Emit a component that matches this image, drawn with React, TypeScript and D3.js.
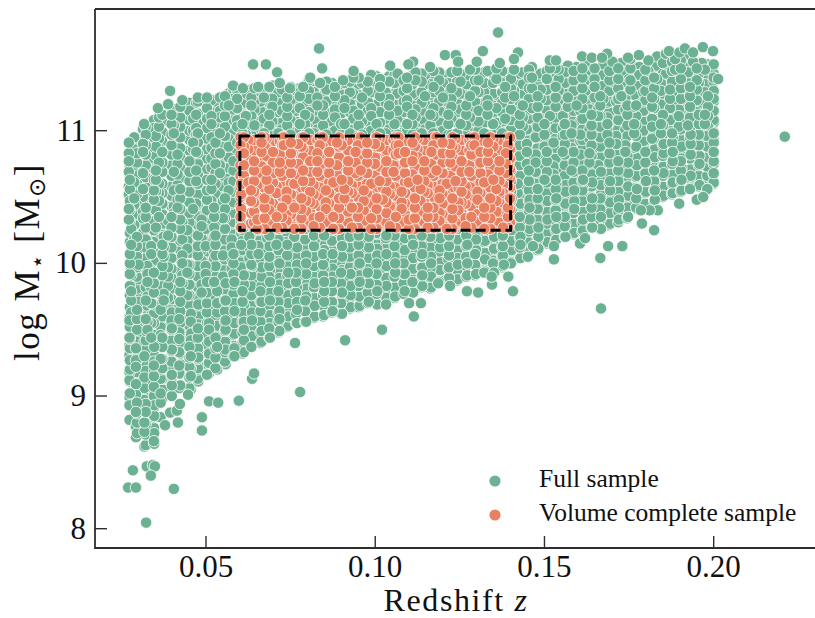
import React from "react";
import * as d3 from "d3";

// values: each row is [redshift, log mass, log mass, ...]
const fullColumns: number[][] = [
  [0.0274, 8.82,8.93,8.99,9.12,9.18,9.31,9.38,9.44,9.57],[0.0279, 9.63,9.72,9.79,9.91,9.96,10.09,10.14,10.26],[0.0272, 10.33,10.41,10.52,10.58,10.69,10.77,10.83,10.91],
  [0.0293, 8.69,8.77,8.88,8.96,9.01,9.09,9.22,9.27,9.36],[0.0301, 9.47,9.53,9.66,9.71,9.8,9.88,9.99,10.03,10.11],[0.0288, 10.18,10.29,10.37,10.44,10.49,10.61,10.66,10.74,10.86,10.95],
  [0.0318, 8.62,8.73,8.8,8.91,8.97,9.06,9.14,9.25,9.3,9.41],[0.0327, 9.5,9.56,9.68,9.75,9.86,9.92,9.98,10.1,10.16],[0.0314, 10.23,10.34,10.39,10.5,10.56,10.68,10.72,10.84,10.9,11.01],
  [0.0347, 8.64,8.72,8.85,8.93,9.03,9.1,9.19,9.26,9.37],[0.0338, 9.44,9.55,9.61,9.7,9.82,9.87,9.95,10.07,10.13],[0.0352, 10.22,10.27,10.4,10.46,10.54,10.63,10.7,10.81,10.88,10.96,11.07],
  [0.0366, 8.84,8.95,9.02,9.13,9.2,9.28,9.39,9.46,9.52,9.65],[0.0375, 9.72,9.77,9.89,9.94,10.05,10.12,10.2,10.3],[0.0361, 10.35,10.47,10.53,10.6,10.71,10.76,10.87,10.94,11.03,11.1],
  [0.0399, 9.0,9.08,9.16,9.24,9.35,9.4,9.51,9.59,9.63],[0.0388, 9.74,9.83,9.9,9.97,10.08,10.15,10.21,10.32],[0.0405, 10.38,10.43,10.55,10.64,10.69,10.8,10.85,10.98,11.04,11.15],
  [0.0421, 9.06,9.17,9.23,9.33,9.43,9.48,9.58,9.67],[0.043, 9.73,9.85,9.91,10.0,10.06,10.18,10.24,10.31],[0.0416, 10.42,10.48,10.59,10.67,10.75,10.82,10.93,10.99,11.08,11.16],
  [0.0455, 9.05,9.15,9.21,9.3,9.42,9.47,9.56,9.62],[0.0445, 9.76,9.81,9.93,9.99,10.11,10.17,10.25,10.36],[0.0462, 10.41,10.51,10.57,10.66,10.73,10.86,10.91,11.0,11.09,11.2],
  [0.0477, 9.11,9.2,9.29,9.34,9.45,9.54,9.6,9.69],[0.0487, 9.78,9.84,9.95,10.02,10.1,10.19,10.28,10.33],[0.0471, 10.45,10.5,10.62,10.7,10.78,10.84,10.97,11.02,11.12,11.21],
  [0.0509, 9.17,9.25,9.32,9.41,9.5,9.55,9.68,9.74],[0.0499, 9.82,9.92,9.98,10.08,10.13,10.26,10.3,10.39],[0.0516, 10.47,10.56,10.63,10.72,10.79,10.87,10.95,11.05,11.11,11.23],
  [0.0533, 9.2,9.31,9.37,9.46,9.53,9.63,9.7,9.79],[0.0524, 9.86,9.94,10.04,10.09,10.2,10.27,10.35,10.42],[0.0541, 10.5,10.58,10.68,10.74,10.83,10.92,10.98,11.1,11.15,11.25],
  [0.0558, 9.24,9.35,9.4,9.5,9.57,9.66,9.72,9.85],[0.055, 9.9,10.01,10.06,10.15,10.23,10.34,10.4,10.47],[0.0567, 10.55,10.61,10.72,10.8,10.88,10.94,11.06,11.13,11.19,11.28],
  [0.0584, 9.3,9.36,9.47,9.55,9.64,9.7,9.81,9.86],[0.0576, 9.96,10.03,10.12,10.18,10.3,10.37,10.45,10.52],[0.0592, 10.6,10.69,10.76,10.85,10.91,11.03,11.08,11.17,11.24,11.3],
  [0.0612, 9.33,9.42,9.5,9.56,9.68,9.73,9.84,9.91],[0.0604, 9.97,10.09,10.14,10.23,10.31],[0.0618, 10.97,11.06,11.11,11.21,11.28],
  [0.0636, 9.38,9.45,9.57,9.63,9.74,9.8,9.87,9.98],[0.0628, 10.04,10.12,10.2,10.29],[0.0643, 11.0,11.04,11.16,11.22,11.32],
  [0.0664, 9.41,9.49,9.59,9.66,9.71,9.83,9.9,9.97],[0.0655, 10.07,10.13,10.25,10.31],[0.0671, 10.98,11.09,11.14,11.25,11.3],
  [0.0689, 9.44,9.55,9.61,9.72,9.78,9.86,9.95,10.02],[0.0681, 10.1,10.19,10.26],[0.0696, 10.99,11.07,11.18,11.24,11.34],
  [0.0717, 9.49,9.58,9.64,9.75,9.84,9.89,10.0,10.08],[0.0708, 10.14,10.22,10.32],[0.0724, 11.01,11.06,11.15,11.27,11.31],
  [0.0743, 9.53,9.6,9.7,9.76,9.85,9.93,10.04,10.09],[0.0735, 10.16,10.27],[0.075, 10.97,11.08,11.16,11.23,11.33],
  [0.0769, 9.55,9.65,9.71,9.82,9.88,9.99,10.05,10.12],[0.0761, 10.2,10.29],[0.0777, 11.0,11.05,11.17,11.26,11.32],
  [0.0796, 9.56,9.67,9.75,9.81,9.92,10.0,10.06,10.15],[0.0788, 10.23,10.31],[0.0804, 10.98,11.1,11.14,11.24,11.3,11.38],
  [0.0821, 9.6,9.68,9.74,9.85,9.94,10.01,10.11,10.17],[0.0813, 10.26],[0.0829, 11.01,11.07,11.19,11.25,11.35],
  [0.0849, 9.61,9.71,9.79,9.86,9.97,10.03,10.1,10.21],[0.0841, 10.28],[0.0856, 10.97,11.06,11.13,11.22,11.31,11.37],
  [0.0874, 9.64,9.7,9.81,9.9,9.96,10.07,10.16,10.22],[0.0866, 10.3],[0.0881, 11.0,11.1,11.16,11.26,11.33],
  [0.0902, 9.62,9.73,9.78,9.88,9.95,10.05,10.13,10.19],[0.0893, 10.27],[0.0909, 10.99,11.05,11.17,11.23,11.36],
  [0.0927, 9.67,9.76,9.83,9.92,10.02,10.08,10.18,10.24],[0.0919, 10.31],[0.0935, 11.01,11.09,11.15,11.28,11.34,11.4],
  [0.0954, 9.68,9.75,9.86,9.91,10.0,10.1,10.15,10.26],[0.0946, 10.33],[0.0961, 10.97,11.07,11.2,11.25,11.36],
  [0.0981, 9.71,9.8,9.85,9.96,10.04,10.12,10.2,10.28],[0.0972, 10.32],[0.0988, 11.0,11.11,11.17,11.29,11.35,11.42],
  [0.1006, 9.69,9.79,9.87,9.94,10.06,10.11,10.22,10.29],[0.0998, 10.34],[0.1014, 10.98,11.06,11.14,11.26,11.33,11.39],
  [0.1033, 9.74,9.83,9.89,9.98,10.07,10.16,10.21,10.3],[0.1026, 10.27],[0.1041, 11.01,11.12,11.19,11.24,11.37,11.41],
  [0.1059, 9.75,9.81,9.93,10.0,10.08,10.18,10.24],[0.1051, 10.3],[0.1066, 10.97,11.08,11.15,11.28,11.34,11.43],
  [0.1087, 9.79,9.87,9.92,10.03,10.1,10.19,10.27],[0.1078, 10.33],[0.1094, 11.0,11.05,11.18,11.23,11.32,11.4],
  [0.1112, 9.78,9.88,9.96,10.04,10.14,10.2,10.28],[0.1104, 10.31],[0.1119, 10.99,11.1,11.16,11.27,11.38,11.44],
  [0.1139, 9.83,9.91,9.97,10.07,10.15,10.23,10.32],[0.1131, 10.26],[0.1147, 11.01,11.07,11.2,11.26,11.35,11.42],
  [0.1165, 9.82,9.9,10.0,10.05,10.17,10.25,10.29],[0.1157, 10.34],[0.1172, 10.98,11.11,11.17,11.29,11.33,11.45],
  [0.1192, 9.87,9.95,10.01,10.12,10.19,10.28],[0.1184, 10.33],[0.12, 11.0,11.06,11.14,11.25,11.36,11.41],
  [0.1218, 9.89,9.97,10.06,10.13,10.21,10.3],[0.121, 10.26],[0.1225, 10.97,11.09,11.18,11.24,11.32,11.44],
  [0.1244, 9.88,9.99,10.04,10.16,10.22,10.31],[0.1237, 10.27],[0.1252, 11.01,11.05,11.16,11.28,11.37,11.43],
  [0.1272, 9.91,10.0,10.09,10.14,10.25,10.32],[0.1263, 10.28],[0.128, 10.99,11.1,11.21,11.26,11.34,11.46],
  [0.1298, 9.92,9.98,10.1,10.18,10.24,10.33],[0.129, 10.29],[0.1305, 11.0,11.07,11.15,11.29,11.38,11.42],
  [0.1324, 9.94,10.03,10.08,10.17,10.27,10.3],[0.1316, 10.34],[0.1332, 10.97,11.12,11.19,11.23,11.35,11.45],
  [0.1351, 9.93,10.02,10.11,10.2,10.26,10.34],[0.1343, 10.29],[0.1358, 11.01,11.06,11.17,11.27,11.39,11.47],
  [0.1377, 9.98,10.06,10.13,10.21,10.29],[0.1369, 10.33],[0.1384, 10.99,11.09,11.2,11.25,11.33,11.44],
  [0.1403, 10.01,10.1,10.17,10.25,10.32,10.4,10.49],[0.1395, 10.56,10.66,10.71,10.83,10.89,11.0],[0.141, 11.07,11.15,11.26,11.3,11.41,11.46],
  [0.1429, 10.04,10.14,10.2,10.31,10.36,10.45],[0.1421, 10.53,10.6,10.72,10.79,10.87,10.94],[0.1436, 11.03,11.1,11.19,11.28,11.35,11.44],
  [0.1456, 10.09,10.15,10.26,10.33,10.42,10.48],[0.1448, 10.58,10.64,10.75,10.84,10.9,11.01],[0.1463, 11.06,11.17,11.22,11.32,11.4,11.48],
  [0.1482, 10.11,10.2,10.27,10.37,10.43,10.52],[0.1474, 10.6,10.69,10.76,10.82,10.95,10.99],[0.1489, 11.09,11.14,11.24,11.31,11.43],
  [0.1509, 10.16,10.22,10.33,10.39,10.47,10.57],[0.15, 10.63,10.74,10.8,10.88,10.97,11.05],[0.1516, 11.11,11.21,11.27,11.36,11.42,11.47],
  [0.1535, 10.18,10.26,10.35,10.44,10.49,10.6],[0.1527, 10.67,10.73,10.85,10.91,11.0,11.08],[0.1542, 11.16,11.23,11.3,11.39,11.46],
  [0.1562, 10.2,10.3,10.36,10.45,10.54,10.59],[0.1554, 10.71,10.78,10.84,10.96,11.02,11.11],[0.1569, 11.18,11.25,11.34,11.41,11.49],
  [0.1588, 10.23,10.29,10.41,10.47,10.55,10.64],[0.158, 10.7,10.81,10.87,10.98,11.04,11.13],[0.1595, 11.19,11.29,11.36,11.44,11.48],
  [0.1614, 10.25,10.33,10.39,10.5,10.58,10.63],[0.1606, 10.75,10.82,10.92,10.97,11.07,11.15],[0.1621, 11.21,11.3,11.38,11.43,11.51],
  [0.1641, 10.27,10.36,10.44,10.49,10.61,10.67],[0.1633, 10.76,10.83,10.94,11.01,11.08,11.16],[0.1648, 11.25,11.33,11.39,11.47],
  [0.1667, 10.26,10.35,10.43,10.52,10.59,10.69],[0.1659, 10.74,10.86,10.93,11.0,11.11,11.17],[0.1674, 11.24,11.34,11.42,11.5],
  [0.1694, 10.3,10.38,10.46,10.55,10.62,10.71],[0.1686, 10.79,10.85,10.97,11.05,11.1,11.21],[0.1701, 11.28,11.37,11.41,11.52],
  [0.172, 10.33,10.42,10.48,10.57,10.67,10.72],[0.1712, 10.82,10.9,10.96,11.06,11.13,11.22],[0.1727, 11.26,11.36,11.45,11.51],
  [0.1747, 10.35,10.44,10.51,10.58,10.68,10.76],[0.1739, 10.84,10.89,11.01,11.07,11.16,11.24],[0.1754, 11.31,11.38,11.47,11.54],
  [0.1773, 10.41,10.5,10.56,10.66,10.74,10.79],[0.1765, 10.87,10.98,11.05,11.1,11.18,11.27],[0.178, 11.34,11.42,11.48],
  [0.18, 10.44,10.54,10.62,10.67,10.78,10.85],[0.1792, 10.92,11.0,11.06,11.15,11.22,11.29],[0.1807, 11.37,11.45,11.53],
  [0.1826, 10.48,10.55,10.61,10.72,10.8,10.86],[0.1818, 10.94,11.03,11.09,11.18,11.25,11.34],[0.1833, 11.39,11.49,11.56],
  [0.1852, 10.51,10.57,10.68,10.73,10.83,10.9],[0.1844, 10.98,11.05,11.13,11.2,11.3,11.36],[0.1859, 11.43,11.5,11.58],
  [0.1879, 10.53,10.61,10.67,10.77,10.84,10.95],[0.1871, 11.0,11.08,11.17,11.24,11.31,11.41],[0.1886, 11.46,11.54],
  [0.1905, 10.55,10.63,10.72,10.79,10.88,10.93],[0.1897, 11.03,11.11,11.16,11.28,11.35,11.42],[0.1912, 11.49,11.56],
  [0.1932, 10.57,10.66,10.71,10.82,10.9,10.97],[0.1924, 11.04,11.13,11.2,11.27,11.36,11.44],[0.1939, 11.52],
  [0.1958, 10.59,10.65,10.75,10.81,10.92,10.99],[0.195, 11.07,11.14,11.23,11.31,11.38,11.47],[0.1965, 11.51],
  [0.1981, 10.56,10.66,10.73,10.8,10.88,10.96],[0.1974, 11.05,11.12,11.22,11.29,11.35,11.46],
  [0.2, 10.61,10.68,10.77,10.84,10.93,10.99,11.08,11.15,11.24,11.3,11.4,11.5],
];

// the dense body of the cloud, a second pass over the same region
const fullBody: number[][] = [
  [0.0275, 9.02,9.11,9.2,9.27,9.36,9.43,9.52,9.6,9.67,9.76,9.83,9.92,10.0,10.07,10.16,10.23,10.32,10.4,10.47,10.56,10.63,10.72,10.8],
  [0.0296, 8.72,8.8,8.87,8.95,9.04,9.1,9.18,9.27,9.34,9.41,9.5,9.58,9.65,9.74,9.81,9.9,9.97,10.05,10.13,10.2,10.29,10.36,10.44,10.52,10.6,10.67,10.76,10.83,10.92],
  [0.0322, 8.63,8.71,8.79,8.88,8.94,9.03,9.12,9.19,9.25,9.35,9.42,9.49,9.58,9.66,9.72,9.82,9.88,9.96,10.04,10.12,10.18,10.27,10.35,10.42,10.5,10.58,10.65,10.74,10.82,10.89,10.97,11.03],
  [0.0346, 8.66,8.76,8.84,8.91,9.0,9.07,9.15,9.23,9.31,9.38,9.46,9.55,9.62,9.69,9.78,9.85,9.93,10.02,10.09,10.16,10.25,10.32,10.4,10.48,10.55,10.63,10.71,10.79,10.87,10.95,11.02,11.08],
  [0.0371, 8.98,9.05,9.13,9.21,9.28,9.37,9.44,9.52,9.6,9.68,9.75,9.83,9.91,9.98,10.07,10.14,10.22,10.3,10.37,10.45,10.53,10.6,10.69,10.76,10.84,10.92,10.99,11.07,11.12],
  [0.0398, 9.03,9.11,9.19,9.26,9.34,9.42,9.5,9.57,9.66,9.73,9.81,9.89,9.96,10.04,10.12,10.2,10.27,10.35,10.43,10.51,10.58,10.66,10.74,10.82,10.89,10.97,11.05,11.12,11.17],
  [0.0424, 9.08,9.17,9.24,9.32,9.4,9.48,9.55,9.64,9.71,9.79,9.86,9.94,10.03,10.1,10.17,10.26,10.33,10.41,10.49,10.56,10.64,10.72,10.8,10.87,10.95,11.03,11.1,11.18],
  [0.0451, 9.06,9.14,9.22,9.29,9.37,9.45,9.53,9.6,9.69,9.76,9.84,9.92,9.99,10.08,10.15,10.23,10.31,10.38,10.46,10.54,10.62,10.69,10.77,10.85,10.93,11.0,11.08,11.15,11.21],
  [0.0476, 9.13,9.21,9.28,9.36,9.44,9.51,9.59,9.67,9.75,9.82,9.9,9.98,10.06,10.13,10.21,10.29,10.36,10.44,10.52,10.6,10.67,10.75,10.83,10.91,10.98,11.06,11.13,11.22],
  [0.0503, 9.16,9.24,9.32,9.39,9.47,9.55,9.63,9.7,9.78,9.86,9.94,10.01,10.09,10.17,10.25,10.32,10.4,10.48,10.55,10.63,10.71,10.79,10.86,10.94,11.02,11.09,11.17,11.23],
  [0.0528, 9.21,9.29,9.36,9.44,9.52,9.59,9.67,9.75,9.83,9.9,9.98,10.06,10.14,10.21,10.29,10.36,10.45,10.52,10.6,10.68,10.75,10.83,10.91,10.99,11.06,11.14,11.22],
  [0.0556, 9.26,9.33,9.41,9.49,9.56,9.64,9.72,9.8,9.87,9.95,10.03,10.1,10.18,10.26,10.34,10.41,10.49,10.57,10.65,10.72,10.8,10.88,10.96,11.03,11.11,11.19,11.26],
  [0.0581, 9.3,9.38,9.46,9.53,9.61,9.69,9.77,9.84,9.92,10.0,10.07,10.15,10.23,10.31,10.38,10.46,10.54,10.62,10.7,10.77,10.85,10.93,11.0,11.08,11.16,11.24,11.3],
  [0.0608, 9.32,9.4,9.48,9.56,9.63,9.71,9.79,9.87,9.94,10.02,10.1,10.17,10.25,10.98,11.05,11.13,11.2,11.27],
  [0.0634, 9.37,9.45,9.52,9.6,9.68,9.76,9.83,9.91,9.99,10.07,10.14,10.22,10.3,10.97,11.04,11.11,11.19,11.25,11.31],
  [0.0661, 9.4,9.48,9.56,9.64,9.71,9.79,9.87,9.95,10.02,10.1,10.18,10.26,10.99,11.07,11.15,11.22,11.29],
  [0.0687, 9.44,9.51,9.59,9.67,9.75,9.82,9.9,9.98,10.05,10.13,10.21,10.29,10.97,11.04,11.12,11.2,11.27,11.33],
  [0.0714, 9.48,9.56,9.63,9.71,9.79,9.87,9.94,10.02,10.1,10.18,10.26,10.98,11.06,11.14,11.21,11.29],
  [0.074, 9.52,9.6,9.67,9.75,9.83,9.91,9.98,10.06,10.14,10.22,10.29,10.97,11.04,11.11,11.18,11.25,11.31],
  [0.0766, 9.55,9.62,9.7,9.78,9.86,9.93,10.01,10.09,10.17,10.24,10.99,11.07,11.15,11.22,11.3],
  [0.0793, 9.56,9.64,9.72,9.8,9.87,9.95,10.03,10.11,10.18,10.26,10.97,11.05,11.12,11.2,11.28,11.34],
  [0.0819, 9.59,9.67,9.74,9.82,9.9,9.98,10.05,10.13,10.21,10.29,10.98,11.06,11.14,11.21,11.29,11.35],
  [0.0846, 9.6,9.68,9.76,9.84,9.91,9.99,10.07,10.15,10.22,10.3,10.97,11.04,11.12,11.19,11.27,11.34],
  [0.0872, 9.63,9.71,9.79,9.86,9.94,10.02,10.1,10.17,10.25,10.99,11.07,11.14,11.22,11.3,11.36],
  [0.0899, 9.62,9.7,9.78,9.85,9.93,10.01,10.09,10.16,10.24,10.97,11.05,11.13,11.2,11.28,11.35],
  [0.0925, 9.66,9.74,9.81,9.89,9.97,10.05,10.12,10.2,10.28,10.98,11.06,11.14,11.21,11.29,11.37],
  [0.0951, 9.67,9.75,9.83,9.9,9.98,10.06,10.14,10.21,10.29,10.97,11.04,11.12,11.2,11.27,11.35,11.4],
  [0.0978, 9.7,9.78,9.85,9.93,10.01,10.09,10.16,10.24,10.99,11.07,11.15,11.22,11.3,11.37],
  [0.1004, 9.69,9.77,9.84,9.92,10.0,10.08,10.15,10.23,10.3,10.97,11.05,11.13,11.2,11.28,11.36,11.41],
  [0.1031, 9.73,9.8,9.88,9.96,10.04,10.11,10.19,10.27,10.98,11.06,11.14,11.21,11.29,11.37],
  [0.1057, 9.74,9.82,9.9,9.97,10.05,10.13,10.21,10.28,10.97,11.05,11.13,11.2,11.28,11.36,11.42],
  [0.1084, 9.77,9.85,9.92,10.0,10.08,10.16,10.23,10.99,11.06,11.14,11.22,11.3,11.38],
  [0.111, 9.78,9.86,9.94,10.02,10.09,10.17,10.25,10.97,11.05,11.12,11.2,11.28,11.35,11.42],
  [0.1137, 9.82,9.9,9.97,10.05,10.13,10.21,10.28,10.98,11.06,11.14,11.21,11.29,11.37,11.43],
  [0.1163, 9.81,9.89,9.96,10.04,10.12,10.2,10.27,10.97,11.04,11.12,11.2,11.27,11.35,11.41],
  [0.1189, 9.86,9.94,10.01,10.09,10.17,10.25,10.99,11.07,11.15,11.22,11.3,11.38,11.44],
  [0.1216, 9.88,9.96,10.03,10.11,10.19,10.27,10.97,11.05,11.12,11.2,11.28,11.36,11.42],
  [0.1242, 9.87,9.95,10.02,10.1,10.18,10.26,10.98,11.06,11.14,11.21,11.29,11.37,11.45],
  [0.1269, 9.9,9.98,10.05,10.13,10.21,10.29,10.97,11.04,11.12,11.19,11.27,11.35,11.42],
  [0.1295, 9.91,9.99,10.07,10.15,10.22,10.3,10.99,11.07,11.15,11.22,11.3,11.38,11.46],
  [0.1322, 9.93,10.01,10.08,10.16,10.24,10.98,11.06,11.13,11.21,11.29,11.36,11.44],
  [0.1348, 9.92,10.0,10.08,10.15,10.23,10.31,10.97,11.05,11.13,11.2,11.28,11.36,11.43],
  [0.1375, 9.97,10.05,10.12,10.2,10.28,10.98,11.06,11.14,11.21,11.29,11.37,11.45],
  [0.1401, 10.0,10.08,10.16,10.23,10.31,10.39,10.47,10.54,10.62,10.7,10.78,10.85,10.93,11.01,11.08,11.16,11.24,11.32,11.39,11.44],
  [0.1427, 10.04,10.12,10.19,10.27,10.35,10.43,10.5,10.58,10.66,10.74,10.81,10.89,10.97,11.05,11.12,11.2,11.28,11.35,11.43],
  [0.1454, 10.08,10.16,10.24,10.31,10.39,10.47,10.55,10.62,10.7,10.78,10.86,10.93,11.01,11.09,11.16,11.24,11.32,11.4,11.46],
  [0.148, 10.1,10.18,10.25,10.33,10.41,10.49,10.56,10.64,10.72,10.8,10.87,10.95,11.03,11.1,11.18,11.26,11.34,11.41],
  [0.1507, 10.15,10.23,10.3,10.38,10.46,10.53,10.61,10.69,10.77,10.84,10.92,11.0,11.08,11.15,11.23,11.31,11.39,11.45],
  [0.1533, 10.17,10.25,10.32,10.4,10.48,10.56,10.63,10.71,10.79,10.87,10.94,11.02,11.1,11.18,11.25,11.33,11.41,11.47],
  [0.156, 10.2,10.28,10.35,10.43,10.51,10.59,10.66,10.74,10.82,10.9,10.97,11.05,11.13,11.2,11.28,11.36,11.44],
  [0.1586, 10.22,10.3,10.38,10.45,10.53,10.61,10.69,10.76,10.84,10.92,11.0,11.07,11.15,11.23,11.3,11.38,11.45],
  [0.1612, 10.24,10.31,10.39,10.47,10.55,10.62,10.7,10.78,10.86,10.93,11.01,11.09,11.17,11.24,11.32,11.4,11.47],
  [0.1639, 10.27,10.35,10.42,10.5,10.58,10.66,10.73,10.81,10.89,10.97,11.04,11.12,11.2,11.27,11.35,11.43],
  [0.1665, 10.26,10.33,10.41,10.49,10.57,10.64,10.72,10.8,10.88,10.95,11.03,11.11,11.19,11.26,11.34,11.42,11.48],
  [0.1692, 10.29,10.37,10.45,10.52,10.6,10.68,10.76,10.83,10.91,10.99,11.07,11.14,11.22,11.3,11.38,11.45],
  [0.1718, 10.31,10.39,10.46,10.54,10.62,10.7,10.77,10.85,10.93,11.01,11.08,11.16,11.24,11.32,11.39,11.47],
  [0.1745, 10.34,10.42,10.5,10.57,10.65,10.73,10.81,10.88,10.96,11.04,11.12,11.19,11.27,11.35,11.43,11.49],
  [0.1771, 10.42,10.49,10.57,10.65,10.73,10.8,10.88,10.96,11.04,11.11,11.19,11.27,11.34,11.42,11.48],
  [0.1798, 10.45,10.53,10.61,10.68,10.76,10.84,10.92,10.99,11.07,11.15,11.23,11.3,11.38,11.46],
  [0.1824, 10.47,10.55,10.62,10.7,10.78,10.86,10.93,11.01,11.09,11.17,11.24,11.32,11.4,11.48],
  [0.185, 10.5,10.58,10.66,10.73,10.81,10.89,10.97,11.04,11.12,11.2,11.28,11.35,11.43,11.51],
  [0.1877, 10.52,10.6,10.67,10.75,10.83,10.91,10.98,11.06,11.14,11.22,11.29,11.37,11.45,11.52],
  [0.1903, 10.54,10.62,10.7,10.77,10.85,10.93,11.01,11.08,11.16,11.24,11.32,11.39,11.47,11.53],
  [0.193, 10.56,10.64,10.71,10.79,10.87,10.95,11.02,11.1,11.18,11.26,11.33,11.41,11.49],
  [0.1956, 10.58,10.66,10.74,10.81,10.89,10.97,11.05,11.12,11.2,11.28,11.36,11.43,11.51],
  [0.1983, 10.56,10.64,10.72,10.8,10.87,10.95,11.03,11.11,11.18,11.26,11.34,11.42,11.5],
  [0.2, 10.6,10.67,10.75,10.83,10.91,10.98,11.06,11.14,11.22,11.29,11.37,11.43],
];

// isolated points around the edge of the cloud, as [redshift, log mass]
const fullOutliers: number[][] = [
  [0.221,10.955],[0.1667,9.66],[0.1363,11.74],[0.0834,11.62],[0.0639,11.5],[0.0677,11.5],[0.071,11.44],[0.0843,11.47],
  [0.0323,8.046],[0.027,8.31],[0.0293,8.31],[0.0405,8.3],[0.0284,8.44],[0.0325,8.47],[0.0343,8.48],[0.0349,8.47],[0.0337,8.4],
  [0.0488,8.74],[0.0488,8.84],[0.0379,8.78],[0.0417,8.8],[0.0394,8.875],[0.0414,8.89],[0.0423,8.94],[0.0447,9.01],
  [0.0509,8.96],[0.0536,8.95],[0.0597,8.965],[0.0778,9.03],[0.0636,9.13],[0.0642,9.17],[0.0763,9.4],[0.0911,9.42],
  [0.11,9.7],[0.1135,9.7],[0.1114,9.6],[0.1032,9.69],[0.102,9.5],[0.1271,9.79],[0.1304,9.78],[0.1407,9.79],[0.1345,9.84],
  [0.1344,9.9],[0.1393,9.9],[0.138,9.99],[0.1221,9.83],[0.1186,9.85],[0.1451,10.05],[0.1528,10.03],[0.1528,10.13],
  [0.1466,10.13],[0.1665,10.04],[0.1688,10.13],[0.173,10.13],[0.1605,10.15],[0.162,10.19],[0.1824,10.25],[0.1788,10.3],
  [0.1898,10.45],[0.195,10.48],[0.1969,10.5],[0.1835,10.4],[0.1811,10.4],[0.1785,10.4],
  [0.1318,11.6],[0.1206,11.57],[0.1238,11.57],[0.1422,11.59],[0.141,11.54],[0.1516,11.53],[0.1534,11.53],[0.1611,11.56],
  [0.164,11.55],[0.1685,11.58],[0.167,11.55],[0.1747,11.55],[0.1779,11.57],[0.1868,11.6],[0.1899,11.59],[0.1915,11.62],
  [0.1939,11.59],[0.1968,11.63],[0.1998,11.6],[0.2013,11.39],[0.1044,11.49],[0.1112,11.52],[0.1098,11.5],[0.1162,11.48],
  [0.1245,11.52],[0.13,11.52],[0.1368,11.51],[0.0394,11.3],[0.0358,11.17],[0.0317,11.05],[0.058,11.34],[0.0609,11.32],
  [0.0654,11.33],[0.0718,11.36],[0.0748,11.32],[0.0787,11.33],[0.0808,11.4],[0.0837,11.36],[0.0936,11.45],[0.0905,11.38],
  [0.043,11.23],[0.0388,11.2],[0.0476,11.25],[0.0503,11.25],
];

const volumeColumns: number[][] = [
  [0.0604, 10.27,10.36,10.41,10.52,10.6],[0.0612, 10.66,10.74,10.83,10.88,10.95],
  [0.0633, 10.3,10.38,10.47,10.55],[0.0625, 10.61,10.71,10.78,10.86,10.93],
  [0.0652, 10.26,10.33,10.44,10.5,10.59],[0.0664, 10.68,10.73,10.84,10.91,10.95],
  [0.0687, 10.29,10.4,10.46,10.56],[0.0679, 10.63,10.7,10.81,10.87,10.94],
  [0.0709, 10.27,10.35,10.43,10.53,10.58],[0.0718, 10.69,10.76,10.82,10.92],
  [0.0738, 10.32,10.37,10.48,10.54],[0.073, 10.64,10.72,10.79,10.89,10.95],
  [0.0761, 10.26,10.36,10.42,10.51,10.6],[0.0772, 10.67,10.75,10.85,10.9],
  [0.0796, 10.3,10.39,10.47,10.57],[0.0787, 10.62,10.7,10.8,10.86,10.95],
  [0.0818, 10.28,10.34,10.45,10.52,10.59],[0.0829, 10.69,10.77,10.83,10.93],
  [0.0854, 10.31,10.41,10.46,10.55],[0.0845, 10.65,10.72,10.81,10.88,10.95],
  [0.0876, 10.26,10.35,10.43,10.5,10.61],[0.0887, 10.67,10.74,10.86,10.91],
  [0.0909, 10.29,10.38,10.49,10.56],[0.0901, 10.63,10.71,10.78,10.89,10.94],
  [0.0931, 10.27,10.37,10.42,10.53,10.59],[0.0942, 10.68,10.76,10.84,10.92],
  [0.0966, 10.32,10.4,10.47,10.55],[0.0957, 10.64,10.7,10.82,10.87,10.95],
  [0.0988, 10.26,10.34,10.45,10.51,10.6],[0.0999, 10.66,10.75,10.8,10.9],
  [0.1022, 10.3,10.37,10.48,10.57],[0.1013, 10.62,10.73,10.79,10.88,10.94],
  [0.1043, 10.28,10.36,10.43,10.52,10.58],[0.1054, 10.69,10.74,10.85,10.93],
  [0.1078, 10.31,10.41,10.46,10.54],[0.1069, 10.65,10.71,10.83,10.89,10.95],
  [0.1099, 10.26,10.33,10.44,10.5,10.61],[0.111, 10.67,10.77,10.81,10.91],
  [0.1134, 10.29,10.39,10.47,10.56],[0.1125, 10.63,10.72,10.8,10.86,10.94],
  [0.1155, 10.27,10.35,10.42,10.53,10.59],[0.1166, 10.68,10.75,10.84,10.92],
  [0.119, 10.32,10.38,10.49,10.55],[0.1181, 10.64,10.7,10.82,10.88,10.95],
  [0.1211, 10.26,10.36,10.43,10.51,10.6],[0.1222, 10.66,10.76,10.83,10.9],
  [0.1246, 10.3,10.4,10.46,10.57],[0.1237, 10.62,10.73,10.78,10.87,10.94],
  [0.1267, 10.28,10.34,10.45,10.52,10.58],[0.1278, 10.69,10.74,10.85,10.93],
  [0.1302, 10.31,10.37,10.48,10.54],[0.1293, 10.65,10.71,10.81,10.89,10.95],
  [0.1322, 10.26,10.35,10.42,10.5,10.61],[0.1333, 10.67,10.77,10.84,10.91],
  [0.1358, 10.29,10.39,10.47,10.56],[0.1349, 10.63,10.72,10.8,10.88,10.94],
  [0.1378, 10.27,10.36,10.44,10.53,10.59],[0.1386, 10.68,10.75,10.83,10.92],
  [0.1398, 10.31,10.41,10.49,10.57,10.64,10.71,10.79,10.86,10.95],
];

// second pass over the box
const volumeBody: number[][] = [
  [0.0602, 10.27,10.35,10.43,10.5,10.58,10.66,10.74,10.82,10.89,10.95],
  [0.0642, 10.31,10.39,10.46,10.54,10.62,10.7,10.77,10.85,10.93],
  [0.0673, 10.26,10.34,10.42,10.49,10.57,10.65,10.73,10.8,10.88,10.95],
  [0.0698, 10.3,10.38,10.45,10.53,10.61,10.68,10.76,10.84,10.92],
  [0.0725, 10.27,10.35,10.42,10.5,10.58,10.66,10.73,10.81,10.89,10.95],
  [0.0751, 10.29,10.37,10.45,10.52,10.6,10.68,10.76,10.83,10.91],
  [0.0782, 10.26,10.34,10.41,10.49,10.57,10.65,10.72,10.8,10.88,10.95],
  [0.0808, 10.31,10.38,10.46,10.54,10.62,10.69,10.77,10.85,10.93],
  [0.0836, 10.27,10.35,10.43,10.51,10.58,10.66,10.74,10.82,10.89,10.95],
  [0.0864, 10.3,10.37,10.45,10.53,10.61,10.68,10.76,10.84,10.92],
  [0.0893, 10.26,10.34,10.42,10.49,10.57,10.65,10.73,10.8,10.88,10.95],
  [0.092, 10.31,10.39,10.46,10.54,10.62,10.7,10.77,10.85,10.93],
  [0.0949, 10.27,10.35,10.42,10.5,10.58,10.66,10.73,10.81,10.89,10.95],
  [0.0976, 10.29,10.37,10.45,10.52,10.6,10.68,10.76,10.83,10.91],
  [0.1004, 10.26,10.34,10.41,10.49,10.57,10.65,10.72,10.8,10.88,10.95],
  [0.1033, 10.31,10.38,10.46,10.54,10.62,10.69,10.77,10.85,10.93],
  [0.1061, 10.27,10.35,10.43,10.51,10.58,10.66,10.74,10.82,10.89,10.95],
  [0.1088, 10.3,10.37,10.45,10.53,10.61,10.68,10.76,10.84,10.92],
  [0.1117, 10.26,10.34,10.42,10.49,10.57,10.65,10.73,10.8,10.88,10.95],
  [0.1145, 10.31,10.39,10.46,10.54,10.62,10.7,10.77,10.85,10.93],
  [0.1172, 10.27,10.35,10.42,10.5,10.58,10.66,10.73,10.81,10.89,10.95],
  [0.1199, 10.29,10.37,10.45,10.52,10.6,10.68,10.76,10.83,10.91],
  [0.1228, 10.26,10.34,10.41,10.49,10.57,10.65,10.72,10.8,10.88,10.95],
  [0.1255, 10.31,10.38,10.46,10.54,10.62,10.69,10.77,10.85,10.93],
  [0.1284, 10.27,10.35,10.43,10.51,10.58,10.66,10.74,10.82,10.89,10.95],
  [0.1311, 10.3,10.37,10.45,10.53,10.61,10.68,10.76,10.84,10.92],
  [0.134, 10.26,10.34,10.42,10.49,10.57,10.65,10.73,10.8,10.88,10.95],
  [0.1367, 10.31,10.39,10.46,10.54,10.62,10.7,10.77,10.85,10.93],
  [0.1392, 10.27,10.35,10.42,10.5,10.58,10.66,10.73,10.81,10.89,10.95],
];

const xTicks = [0.05, 0.1, 0.15, 0.2];
const yTicks = [8, 9, 10, 11];
const volumeBox = { z0: 0.06, z1: 0.14, m0: 10.25, m1: 10.96 };

const GREEN = "#6db193";
const ORANGE = "#e88062";
const INK = "#2e2e2e";
const SERIF = "'Liberation Serif', serif";

const W = 815;
const H = 618;
const margin = { left: 95, right: 0, top: 9, bottom: 70 };

// draw order is mixed a little so the overlap does not run in one direction
function flatten(cols: number[][]) {
  return cols
    .flatMap((c) => c.slice(1).map((m) => [c[0], m]))
    .sort((a, b) => Math.round(a[1] * 100) % 7 - Math.round(b[1] * 100) % 7);
}

export default function App() {
  const x = d3.scaleLinear().domain([0.05, 0.2]).range([206, 713.7]);
  const y = d3.scaleLinear().domain([8, 11]).range([528.7, 130.7]);
  const plotBottom = H - margin.bottom;

  const full = [...flatten([...fullBody, ...fullColumns]), ...fullOutliers];
  const volume = flatten([...volumeBody, ...volumeColumns]);

  return (
    <svg width={W} height={H} style={{ position: "absolute", left: 0, top: 0 }} fontFamily={SERIF}>
      <rect width={W} height={H} fill="white" />

      {/* Full sample */}
      {full.map((d, i) => (
        <circle key={`f-${i}`} cx={x(d[0])} cy={y(d[1])} r={5.7} fill={GREEN} stroke="white" strokeWidth={0.8} />
      ))}

      {/* Volume complete sample */}
      {volume.map((d, i) => (
        <circle key={`v-${i}`} cx={x(d[0])} cy={y(d[1])} r={5.7} fill={ORANGE} stroke="white" strokeWidth={0.8} />
      ))}

      <rect
        x={x(volumeBox.z0)}
        y={y(volumeBox.m1)}
        width={x(volumeBox.z1) - x(volumeBox.z0)}
        height={y(volumeBox.m0) - y(volumeBox.m1)}
        fill="none"
        stroke="black"
        strokeWidth={3}
        strokeDasharray="10 5"
      />

      {/* Axes */}
      <path
        d={`M${margin.left},${margin.top}H${W}M${margin.left},${margin.top}V${plotBottom}H${W}`}
        fill="none"
        stroke={INK}
        strokeWidth={1.8}
      />
      {xTicks.map((t) => (
        <g key={t}>
          <line x1={x(t)} x2={x(t)} y1={plotBottom} y2={plotBottom - 12} stroke={INK} strokeWidth={1.4} />
          <text x={x(t)} y={577} textAnchor="middle" fontSize={31} fill="#111">
            {t.toFixed(2)}
          </text>
        </g>
      ))}
      {yTicks.map((t) => (
        <g key={t}>
          <line x1={margin.left} x2={margin.left + 12} y1={y(t)} y2={y(t)} stroke={INK} strokeWidth={1.4} />
          <text x={86} y={y(t) + 10} textAnchor="end" fontSize={31} fill="#111">
            {t}
          </text>
        </g>
      ))}

      {/* Axis labels */}
      <text x={456} y={611} textAnchor="middle" fontSize={32} letterSpacing={1.6} fill="#111">
        Redshift <tspan fontStyle="italic">z</tspan>
      </text>
      <text transform="translate(39,262) rotate(-90)" textAnchor="middle" fontSize={35} letterSpacing={1.5} fill="#111">
        log M
        <tspan dy={6} fontSize={23} fontFamily="'DejaVu Sans'">⋆</tspan>
        <tspan dy={-6}> [M</tspan>
        <tspan dy={6} fontSize={23} fontFamily="'DejaVu Sans'">⊙</tspan>
        <tspan dy={-6}>]</tspan>
      </text>

      {/* Legend */}
      <circle cx={495} cy={481} r={5.6} fill={GREEN} />
      <text x={539} y={487} fontSize={25.5} fill="#111">Full sample</text>
      <circle cx={495} cy={515} r={5.6} fill={ORANGE} />
      <text x={539} y={521} fontSize={25.5} fill="#111">Volume complete sample</text>
    </svg>
  );
}
